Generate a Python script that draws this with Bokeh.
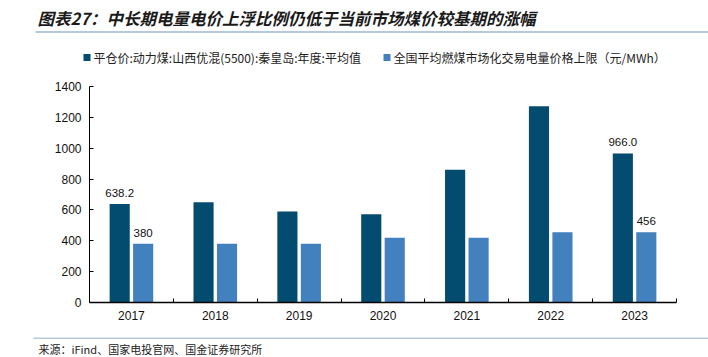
from bokeh.plotting import figure
from bokeh.layouts import column
from bokeh.models import ColumnDataSource, FixedTicker, Range1d
from bokeh.core.properties import value
from bokeh.embed import file_html
from bokeh.resources import INLINE

years = ["2017", "2018", "2019", "2020", "2021", "2022", "2023"]
coal_price = [638.2, 650, 590, 572, 860, 1272, 966.0]
power_cap = [380, 380, 380, 420, 420, 456, 456]
series_names = ["平仓价:动力煤:山西优混(5500):秦皇岛:年度:平均值",
                "全国平均燃煤市场化交易电量价格上限（元/MWh）"]
title_text = "图表27：中长期电量电价上浮比例仍低于当前市场煤价较基期的涨幅"
source_text = "来源：iFind、国家电投官网、国金证券研究所"
labeled_idx = [0, 6]

DARK = "#034B6F"
LIGHT = "#4281BE"
RULE = "#B5C9DA"
CJK = "Noto Sans CJK SC"
NUM = "Liberation Sans"
W = 708
TOP_H, MAIN_H, BOT_H = 75, 262, 20


def blank(h):
    f = figure(width=W, height=h, output_backend="svg", toolbar_location=None,
               x_range=Range1d(0, W), y_range=Range1d(h, 0),
               x_axis_location=None, y_axis_location=None,
               min_border=0, frame_align=False)
    f.outline_line_color = None
    f.grid.grid_line_color = None
    f.background_fill_color = "white"
    f.border_fill_color = "white"
    return f


# ---------- header: title, rule, legend ----------
top = blank(TOP_H)
top.text(x=[37], y=[17], text=[title_text], text_font=value(CJK),
         text_font_size="16.5px", text_font_style="bold italic",
         text_color="#1a1a1a", text_baseline="middle", text_align="left")
top.segment(x0=[35], x1=[W], y0=[31.5], y1=[31.5], line_color=RULE, line_width=2)

leg_x = [83, 383]
leg_colors = [DARK, LIGHT]
top.quad(left=leg_x, right=[x + 7 for x in leg_x], top=[53.5, 53.5],
         bottom=[60.5, 60.5], fill_color=leg_colors, line_color=None)
top.text(x=[x + 10 for x in leg_x], y=[57, 57], text=series_names,
         text_font=value(CJK), text_font_size="12px", text_color="#222222",
         text_baseline="middle", text_align="left")

# ---------- main chart ----------
centers = [i + 0.5 for i in range(len(years))]
src = ColumnDataSource(dict(
    x1=[c - 0.14 for c in centers], x2=[c + 0.14 for c in centers],
    a=coal_price, b=power_cap))

p = figure(width=W, height=MAIN_H, output_backend="svg", toolbar_location=None,
           x_range=Range1d(0, len(years)), y_range=Range1d(0, 1400),
           min_border_left=89, min_border_right=32, min_border_top=11,
           min_border_bottom=35, frame_align=False)
p.outline_line_color = None
p.grid.grid_line_color = None
p.background_fill_color = "white"
p.border_fill_color = "white"

p.vbar(x="x1", top="a", width=0.24, source=src, fill_color=DARK, line_color=None)
p.vbar(x="x2", top="b", width=0.24, source=src, fill_color=LIGHT, line_color=None)

lab_src = ColumnDataSource(dict(
    x=[centers[i] - 0.14 for i in labeled_idx] + [centers[i] + 0.14 for i in labeled_idx],
    y=[coal_price[i] for i in labeled_idx] + [power_cap[i] for i in labeled_idx],
    t=[f"{coal_price[i]:.1f}" for i in labeled_idx] + [f"{power_cap[i]:.0f}" for i in labeled_idx]))
p.text(x="x", y="y", text="t", source=lab_src, text_align="center",
       text_baseline="bottom", y_offset=-7, text_font=value(NUM),
       text_font_size="11.5px", text_color="#111111")

xa = p.xaxis[0]
xa.ticker = FixedTicker(ticks=centers, minor_ticks=list(range(len(years) + 1)))
xa.major_label_overrides = {c: y for c, y in zip(centers, years)}
xa.major_tick_in = 0
xa.major_tick_out = 0
xa.minor_tick_in = 4
xa.minor_tick_out = 0
xa.axis_line_color = "black"
xa.axis_line_width = 1.5
xa.minor_tick_line_color = "black"
xa.major_label_text_font = NUM
xa.major_label_text_font_size = "12px"
xa.major_label_text_color = "#111111"
xa.major_label_standoff = 8

ya = p.yaxis[0]
ya.ticker = FixedTicker(ticks=list(range(0, 1401, 200)))
ya.major_tick_in = 4
ya.major_tick_out = 0
ya.minor_tick_line_color = None
ya.axis_line_color = "black"
ya.major_tick_line_color = "black"
ya.major_label_text_font = NUM
ya.major_label_text_font_size = "12px"
ya.major_label_text_color = "#111111"
ya.major_label_standoff = 8

# ---------- footer ----------
bot = blank(BOT_H)
bot.segment(x0=[33], x1=[W], y0=[0.5], y1=[0.5], line_color=RULE, line_width=2)
bot.text(x=[38], y=[11.5], text=[source_text], text_font=value(CJK),
         text_font_size="11px", text_color="#222222",
         text_baseline="middle", text_align="left")

layout = column(top, p, bot, spacing=0)
open("out.html", "w").write(file_html(layout, INLINE))
